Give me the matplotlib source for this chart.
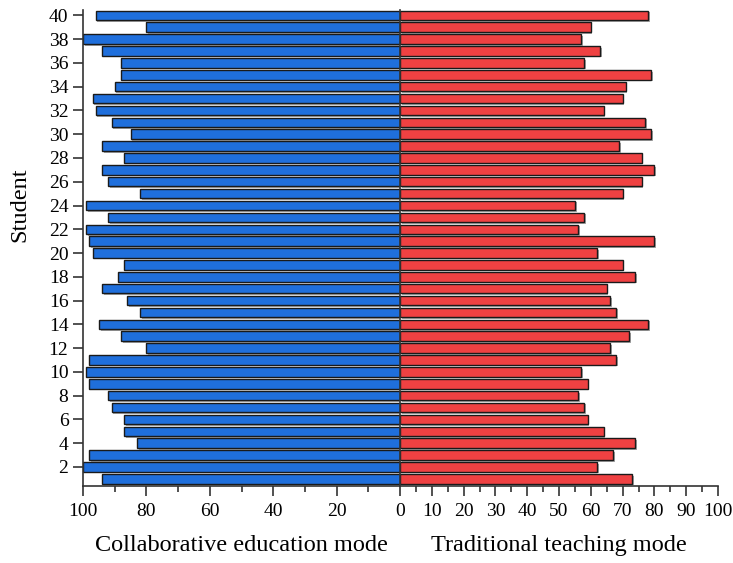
import matplotlib
matplotlib.use("Agg")
import matplotlib.pyplot as plt
import matplotlib.patheffects as pe
import numpy as np

plt.rcParams['font.family'] = ['Liberation Serif', 'DejaVu Serif']

# students 1..40
students = list(range(1, 41))
# scores read top (40) to bottom (1), reversed below
collab = [96, 80, 100, 94, 88, 88, 90, 97, 96, 91,
          85, 94, 87, 94, 92, 82, 99, 92, 99, 98,
          97, 87, 89, 94, 86, 82, 95, 88, 80, 98,
          99, 98, 92, 91, 87, 87, 83, 98, 100, 94][::-1]
trad = [78, 60, 57, 63, 58, 79, 71, 70, 64, 77,
        79, 69, 76, 80, 76, 70, 55, 58, 56, 80,
        62, 70, 74, 65, 66, 68, 78, 72, 66, 68,
        57, 59, 56, 58, 59, 64, 74, 67, 62, 73][::-1]

blue = '#1f6fdc'
red = '#ef4142'
shadow = [pe.SimplePatchShadow(offset=(1.2, -1.2), shadow_rgbFace='#808080', alpha=0.7), pe.Normal()]

fig = plt.figure(figsize=(7.33, 5.63), dpi=100)
W, H = 733, 563
axL = fig.add_axes([83 / W, 1 - 486 / H, 317 / W, 476 / H])
axR = fig.add_axes([400 / W, 1 - 486 / H, 318 / W, 476 / H])

axL.barh(students, collab, height=0.8, color=blue, edgecolor='#1a1a1a', linewidth=1.0,
         path_effects=shadow)
axR.barh(students, trad, height=0.8, color=red, edgecolor='#1a1a1a', linewidth=1.0,
         path_effects=shadow)

ylim = (0.4, 40.45)
axL.set_xlim(100, 0)
axR.set_xlim(0, 100)
axL.set_ylim(*ylim)
axR.set_ylim(*ylim)

for ax in (axL, axR):
    ax.spines['top'].set_visible(False)
    ax.spines['right'].set_visible(False)
    for s in ax.spines.values():
        s.set_color('#333333')
        s.set_linewidth(1.2)
    ax.tick_params(axis='x', which='major', length=7, width=1.2, labelsize=14, color='#333333', pad=5)
    ax.tick_params(axis='x', which='minor', length=4, width=1.2, color='#333333')

axL.set_xticks([100, 80, 60, 40, 20])
axL.set_xticks([90, 70, 50, 30, 10], minor=True)
axR.set_xticks(range(0, 101, 10))
axR.set_xticks(range(5, 100, 10), minor=True)

axL.set_yticks(range(2, 41, 2))
axL.tick_params(axis='y', length=7, width=1.2, labelsize=14, color='#333333')
axR.set_yticks([])

axL.set_xlabel('Collaborative education mode', fontsize=17.5, labelpad=11)
axR.set_xlabel('Traditional teaching mode', fontsize=17.5, labelpad=11)
axL.set_ylabel('Student', fontsize=17.5)
axL.yaxis.set_label_coords(-0.165, 0.59)

fig.savefig('out.png', dpi=100)
